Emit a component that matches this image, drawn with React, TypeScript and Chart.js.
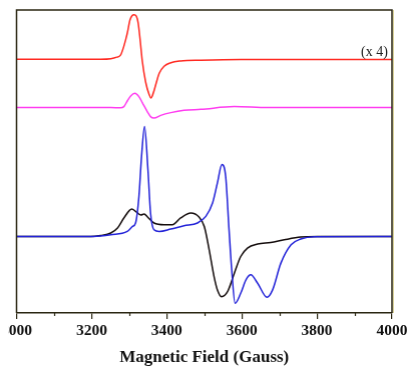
import React, { useEffect, useRef } from "react";
import { Chart, registerables } from "chart.js";

Chart.register(...registerables);

// Magnetic field (Gauss) and signal (arbitrary units, traces offset vertically)
const redField = [3000, 3224, 3251, 3267, 3277, 3286, 3295, 3302, 3308, 3313, 3319, 3324, 3329, 3335, 3344, 3353, 3358, 3364, 3371, 3380, 3393, 3411, 3437, 3491, 3597, 4000];
const redSignal = [253, 253, 253.5, 255, 257, 266, 279, 292, 296.5, 297.3, 296, 289, 273, 251, 230, 218, 214.3, 219, 228, 239, 246, 249.5, 251.2, 252, 252.7, 252.7];

const magentaField = [3000, 3251, 3277, 3286, 3295, 3304, 3315, 3326, 3335, 3349, 3357, 3366, 3384, 3411, 3446, 3491, 3580, 3669, 4000];
const magentaSignal = [204.7, 204.7, 204.5, 205.7, 211.3, 216.3, 219, 215.7, 209.7, 200.3, 195.7, 194.3, 197, 199.7, 202, 203, 205.7, 204.7, 204.7];

const blackField = [3000, 3197, 3224, 3251, 3269, 3286, 3307, 3322, 3331, 3340, 3349, 3366, 3393, 3415, 3437, 3464, 3486, 3500, 3513, 3526, 3535, 3546, 3562, 3580, 3597, 3615, 3642, 3677, 3713, 3757, 3802, 4000];
const blackSignal = [76.3, 76.3, 77.3, 79.7, 84.7, 94.7, 103.7, 99.7, 97.7, 98.7, 95.7, 89.7, 88, 88, 94.7, 99.7, 95.7, 86.3, 63, 36.3, 23, 16.3, 21.3, 39.7, 56.3, 64.7, 68.7, 70.3, 73, 75.7, 76.3, 76.3];

const blueField = [3000, 3205, 3251, 3295, 3309, 3317, 3326, 3333, 3341, 3350, 3357, 3366, 3380, 3411, 3446, 3482, 3504, 3522, 3535, 3547, 3557, 3566, 3573, 3582, 3597, 3611, 3624, 3642, 3667, 3682, 3704, 3731, 3757, 3793, 4000];
const blueSignal = [76.3, 76.3, 78, 81.3, 86.3, 89.7, 116.3, 156.3, 186, 143, 99.7, 83, 81.3, 83.7, 87, 89.7, 96.3, 109.7, 129.7, 148, 136.3, 83, 43, 9.7, 19.7, 33, 38, 29.7, 15.7, 23, 49.7, 68, 73.7, 76, 76.3];

const majorTicks = [3000, 3200, 3400, 3600, 3800, 4000];
const minorTicks = [3100, 3300, 3500, 3700, 3900];
const axisTitle = "Magnetic Field (Gauss)";
const scaleNote = "(x 4)";

const toPoints = (xs: number[], ys: number[]) => xs.map((x, i) => ({ x, y: ys[i] }));

const frameColor = "#2a2612";

const decorPlugin = {
  id: "decor",
  afterDraw(chart: any) {
    const { ctx, chartArea, scales } = chart;
    const xs = scales.x;
    const ys = scales.y;
    ctx.save();
    // minor ticks
    ctx.strokeStyle = frameColor;
    ctx.lineWidth = 1.2;
    minorTicks.forEach((v) => {
      const px = Math.round(xs.getPixelForValue(v)) + 0.5;
      ctx.beginPath();
      ctx.moveTo(px, chartArea.bottom);
      ctx.lineTo(px, chartArea.bottom + 3);
      ctx.stroke();
    });
    // frame
    ctx.lineWidth = 1.5;
    ctx.strokeStyle = frameColor;
    ctx.beginPath();
    ctx.moveTo(chartArea.left, chartArea.bottom);
    ctx.lineTo(chartArea.left, chartArea.top);
    ctx.lineTo(chartArea.right, chartArea.top);
    ctx.lineTo(chartArea.right, chartArea.bottom);
    ctx.stroke();
    ctx.strokeStyle = "#d9d29a";
    ctx.lineWidth = 1;
    ctx.beginPath();
    ctx.moveTo(chartArea.right + 1.5, chartArea.top);
    ctx.lineTo(chartArea.right + 1.5, chartArea.bottom);
    ctx.stroke();
    // (x 4) note
    ctx.fillStyle = "#222";
    ctx.font = "14px 'Liberation Serif', 'Times New Roman', serif";
    ctx.textAlign = "right";
    ctx.textBaseline = "alphabetic";
    ctx.fillText(scaleNote, xs.getPixelForValue(3989), ys.getPixelForValue(256.5));
    ctx.restore();
  },
};

export default function App() {
  const canvasRef = useRef<HTMLCanvasElement | null>(null);

  useEffect(() => {
    if (!canvasRef.current) return;
    const common = {
      fill: false,
      pointRadius: 0,
      borderWidth: 1.5,
      cubicInterpolationMode: "monotone" as const,
    };
    const chart = new Chart(canvasRef.current, {
      type: "line",
      data: {
        datasets: [
          { ...common, label: "blue", data: toPoints(blueField, blueSignal), borderColor: "#2323d8" },
          { ...common, label: "black", data: toPoints(blackField, blackSignal), borderColor: "#140c0c" },
          { ...common, label: "magenta", data: toPoints(magentaField, magentaSignal), borderColor: "#ff3cf0" },
          { ...common, label: "red", data: toPoints(redField, redSignal), borderColor: "#ff2a22" },
        ],
      },
      options: {
        animation: false,
        responsive: true,
        maintainAspectRatio: false,
        layout: { padding: { top: 10, bottom: 0, left: 0, right: 0 } },
        plugins: { legend: { display: false }, tooltip: { enabled: false } },
        scales: {
          x: {
            type: "linear",
            min: 3000,
            max: 4000,
            afterBuildTicks: (scale: any) => {
              scale.ticks = majorTicks.map((v) => ({ value: v }));
            },
            grid: {
              display: true,
              drawOnChartArea: false,
              drawTicks: true,
              tickLength: 6,
              color: frameColor,
              lineWidth: 1.2,
            },
            border: { display: true, color: frameColor, width: 1.5 },
            ticks: {
              autoSkip: false,
              maxRotation: 0,
              padding: 3,
              color: "#111",
              font: { family: "'Liberation Serif', 'Times New Roman', serif", size: 15.5, weight: "bold" },
              callback: (v: any) => String(v),
            },
            title: {
              display: true,
              text: axisTitle,
              color: "#111",
              font: { family: "'Liberation Serif', 'Times New Roman', serif", size: 17, weight: "bold" },
              padding: { top: 4, bottom: 0 },
            },
          },
          y: {
            type: "linear",
            display: false,
            min: 0,
            max: 302,
          },
        },
      },
      plugins: [decorPlugin],
    });
    return () => chart.destroy();
  }, []);

  return (
    <div style={{ position: "absolute", left: 8, top: 0, width: 399, height: 368, overflow: "hidden", background: "#fff" }}>
      <div style={{ position: "absolute", left: -10, top: 0, width: 411.5, height: 368 }}>
        <canvas ref={canvasRef} />
      </div>
    </div>
  );
}
